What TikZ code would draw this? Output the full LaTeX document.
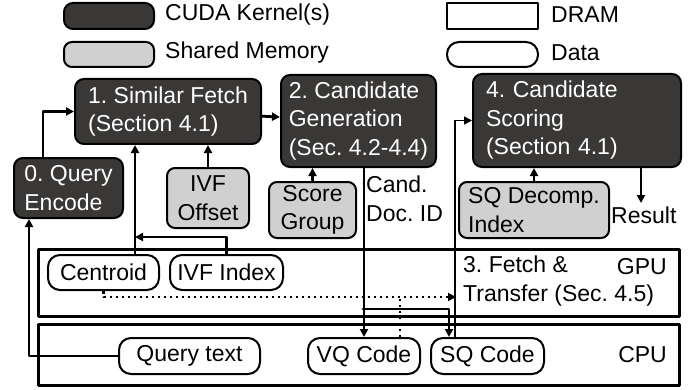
\documentclass[tikz,border=0pt]{standalone}
\usepackage{fontspec}
\setmainfont{Liberation Sans}
\usepackage{tikz}
\usetikzlibrary{arrows.meta}
\definecolor{kernelgray}{RGB}{58,56,54}
\definecolor{shmemgray}{RGB}{208,208,208}
\tikzset{
  kernel/.style={draw=black,line width=2pt,fill=kernelgray,text=white,rounded corners=9pt,align=left,inner sep=0pt,anchor=north west},
  shmem/.style={draw=black,line width=2pt,fill=shmemgray,rounded corners=8pt,align=center,inner sep=0pt,anchor=north west},
  dram/.style={draw=black,line width=2pt,inner sep=0pt,anchor=north west},
  data/.style={draw=black,line width=2pt,fill=white,rounded corners=12pt,inner sep=0pt,anchor=north west},
  lbl/.style={inner sep=0pt,align=left},
  flow/.style={line width=2.8pt,->},
  feed/.style={line width=1.5pt,->},
  xfer/.style={line width=2.8pt,line cap=butt,dash pattern=on 2.5pt off 3.5pt},
}
\begin{document}
\frenchspacing
\begin{tikzpicture}[line cap=round,line join=round,>={Triangle[length=8pt,width=8pt]},x=1pt,y=-1pt]
\useasboundingbox (0,0) rectangle (700,390);
\fontsize{23}{28.5}\selectfont
\node[kernel,minimum width=90pt,minimum height=26pt] (lk) at (63,2) {};
\node[shmem,minimum width=90pt,minimum height=25pt] (ls) at (63,41) {};
\node[dram,minimum width=91pt,minimum height=26pt] (ld) at (446,2) {};
\node[data,minimum width=91pt,minimum height=25pt] (lda) at (446,41) {};
\node[lbl,anchor=west] (lkt) at (165,15) {CUDA Kernel(s)};
\node[lbl,anchor=west] (lst) at (165,53) {Shared Memory};
\node[lbl,anchor=west] (ldt) at (551,15) {DRAM};
\node[lbl,anchor=west] (ldat) at (551,53) {Data};
\node[dram,line width=2.5pt,minimum width=641pt,minimum height=67pt] (gpu) at (37,248) {};
\node[dram,line width=2.5pt,minimum width=641pt,minimum height=61pt] (cpu) at (37,323) {};
\node[kernel,minimum width=109pt,minimum height=60pt] (q0) at (13,157) {0. Query\\Encode};
\node[kernel,minimum width=186pt,minimum height=65pt] (f1) at (74,78) {1. Similar Fetch\\(Section 4.1)};
\node[kernel,minimum width=155pt,minimum height=92pt] (g2) at (280,74) {2. Candidate\\Generation\\(Sec. 4.2-4.4)};
\node[kernel,inner xsep=13pt,text width=182pt,minimum height=93pt] (s4) at (472,73) {4. Candidate\\Scoring\\(Section 4.1)};
\node[shmem,minimum width=82pt,minimum height=60pt] (ivfo) at (166,167) {IVF\\Offset};
\node[shmem,minimum width=87pt,minimum height=56pt] (sg) at (268,181) {Score\\Group};
\node[shmem,align=left,minimum width=150pt,minimum height=56pt] (sqd) at (458,181) {SQ Decomp.\\Index};
\node[data,minimum width=111pt,minimum height=35pt] (cen) at (47,254) {Centroid};
\node[data,minimum width=113pt,minimum height=35pt] (ivfi) at (169,254) {IVF Index};
\node[data,minimum width=141pt,minimum height=36pt] (qt) at (118,337) {Query text};
\node[data,minimum width=112pt,minimum height=36pt] (vq) at (307,337) {VQ Code};
\node[data,minimum width=113pt,minimum height=36pt] (sq) at (430,337) {SQ Code};
\node[lbl,anchor=west] (cand) at (366,199) {Cand.\\Doc. ID};
\node[lbl,anchor=west] (res) at (611,215) {Result};
\node[lbl,anchor=west] (fetch) at (463,281) {3. Fetch \&\\Transfer (Sec. 4.5)};
\node[lbl,anchor=east] (gput) at (667,267) {GPU};
\node[lbl,anchor=east] (cput) at (667,355) {CPU};
\coordinate (cj) at (135,237);
\coordinate (split) at (363,309);
\coordinate (tr) at (456,297);
\coordinate (resend) at (641,203);
\draw[flow] (qt) -| ([xshift=16pt]q0.south west);
\draw[flow] ([xshift=30pt]q0.north west) |- (f1);
\draw[flow] ([xshift=88pt]cen.north west) -- ([xshift=88pt]cen.north west |- f1.south);
\draw[flow] (ivfi.north) |- (cj);
\draw[flow] (ivfo) -- (ivfo |- f1.south);
\draw[flow] (f1) -- (g2);
\draw[flow] (sg) -- (sg |- g2.south);
\draw[flow] (vq |- g2.south) -- (vq.north);
\draw[flow] (split) -| ([xshift=19pt]sq.north west);
\draw[feed] ([xshift=25pt]sq.north west) |- (s4);
\draw[flow] (sqd) -- (sqd |- s4.south);
\draw[flow] (resend |- s4.south) -- (resend);
\draw[xfer,->] (cen.south) |- (tr);
\draw[xfer] ([xshift=-21pt]vq.north east) -- ([xshift=-21pt]vq.north east |- tr);
\end{tikzpicture}
\end{document}
